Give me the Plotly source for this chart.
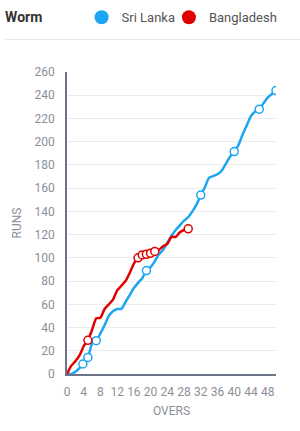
import plotly.graph_objects as go

# Sri Lanka innings (overs, cumulative runs)
sl_overs = [0, 1, 2, 3, 3.8, 5, 6, 7, 8, 9, 10, 11, 12, 13, 14, 15, 16, 17, 18, 19,
            20, 21, 22, 23, 24, 25, 26, 27, 28, 29, 30, 31, 32, 33, 34, 35, 36, 37,
            38, 39, 40, 41, 42, 43, 44, 45, 46, 47, 48, 49, 50]
sl_runs = [0, 0, 2, 5, 8.6, 14.3, 26, 28.7, 35, 42, 50, 54, 56, 56, 62, 68, 74, 78.5,
           82.5, 89, 92, 97, 103, 107, 113, 119, 124, 128, 132, 135, 140, 146, 154,
           161, 169, 170.5, 172, 175, 181, 187, 191.5, 197, 206, 214, 222, 226, 228,
           233, 238, 241, 244]
sl_wkt_overs = [3.8, 5, 7, 19, 32, 40, 46, 50]
sl_wkt_runs = [8.6, 14.3, 28.7, 89, 154, 191.5, 228, 244]

# Bangladesh innings
bd_overs = [0, 1, 2, 3, 4, 5, 6, 7, 8, 9, 10, 11, 12, 13, 14, 15, 16, 17, 18, 19,
            20, 21, 22, 23, 24, 25, 26, 27, 28, 29]
bd_runs = [0, 7, 11, 16, 24, 29, 38, 48, 48.5, 56, 60, 64, 72, 76, 80, 87, 95, 100,
           102.5, 103, 104, 105.5, 107, 110, 112, 118, 118, 122, 124, 125]
bd_wkt_overs = [5, 17, 18, 19, 20, 21, 29]
bd_wkt_runs = [29, 100, 102.5, 103, 104, 105.5, 125]

teams = ["Sri Lanka", "Bangladesh"]
x_ticks = list(range(0, 49, 4))
y_ticks = list(range(0, 261, 20))

BLUE = "#1ca6f2"
RED = "#e00000"
TICK = "#8a8f99"

fig = go.Figure()
for name, ox, ry, wx, wy, col, lg in [
    (teams[0], sl_overs, sl_runs, sl_wkt_overs, sl_wkt_runs, BLUE, "legend"),
    (teams[1], bd_overs, bd_runs, bd_wkt_overs, bd_wkt_runs, RED, "legend2"),
]:
    fig.add_trace(go.Scatter(x=ox, y=ry, mode="lines", showlegend=False,
                             line=dict(color=col, width=2.5, shape="spline", smoothing=0.6),
                             hoverinfo="skip"))
    fig.add_trace(go.Scatter(x=wx, y=wy, mode="markers", showlegend=False,
                             marker=dict(size=8, color="white", line=dict(color=col, width=1.5))))
    fig.add_trace(go.Scatter(x=[None], y=[None], mode="markers", name=name, legend=lg,
                             marker=dict(size=14, color=col)))

leg_common = dict(orientation="h", xanchor="left", y=0.96, yanchor="middle",
                  xref="container", yref="container", bgcolor="rgba(0,0,0,0)",
                  font=dict(size=13, color="#555"), itemwidth=30)

fig.update_layout(
    width=300, height=431,
    margin=dict(l=67, r=24, t=72, b=57),
    paper_bgcolor="white", plot_bgcolor="white",
    font=dict(family="Roboto", color="#888"),
    title=dict(text="<b>Worm</b>", x=0.017, xanchor="left", y=0.96, yanchor="middle",
               yref="container", xref="container",
               font=dict(size=14, color="#333", family="Roboto")),
    legend=dict(x=0.272, **leg_common),
    legend2=dict(x=0.563, **leg_common),
    shapes=[dict(type="line", xref="paper", yref="paper", x0=-0.3, x1=1.2,
                 y0=1.108, y1=1.108, line=dict(color="#e8e8e8", width=1))],
    xaxis=dict(range=[0, 50], tickvals=x_ticks, showgrid=False, zeroline=False,
               showline=True, linecolor="#6d7488", linewidth=1.5,
               tickfont=dict(size=12, color=TICK), ticklabelstandoff=6,
               title=dict(text="OVERS", font=dict(size=12, color=TICK), standoff=8)),
    yaxis=dict(range=[0, 260], tickvals=y_ticks, showgrid=True, gridcolor="#ececec",
               zeroline=False, showline=True, linecolor="#6d7488", linewidth=1.5,
               tickfont=dict(size=12, color=TICK), ticklabelstandoff=8,
               title=dict(text="RUNS", font=dict(size=12, color=TICK), standoff=10)),
)
fig.write_html("out.html")
